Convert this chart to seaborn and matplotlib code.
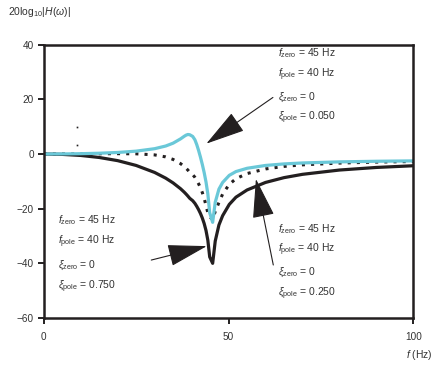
import numpy as np
import pandas as pd
import matplotlib
matplotlib.use("Agg")
import matplotlib.pyplot as plt
import seaborn as sns

# frequency (Hz)
freq = [0, 5, 10, 15, 20, 25, 30, 33, 35, 37, 38, 38.5, 39, 39.5, 40.3, 40.9,
        41.4, 41.9, 42.4, 42.9, 43.4, 43.9, 44.4, 44.9, 45.7, 46.4, 47.4, 48.4,
        50.2, 52, 55, 60, 65, 70, 80, 90, 100]

# gain in dB for xi_pole = 0.050 (cyan), 0.250 (dotted), 0.750 (black)
gain_050 = [0, 0.03, 0.12, 0.29, 0.57, 1.05, 1.95, 2.93, 3.97, 5.53, 6.48, 6.90,
            7.15, 7.06, 6.44, 5.21, 3.44, 1.29, -1.13, -3.79, -6.75, -10.22,
            -14.64, -21.49, -25.0, -17.64, -12.84, -10.40, -7.80, -6.42, -5.22,
            -4.18, -3.62, -3.27, -2.87, -2.65, -2.51]
gain_250 = [0, 0.01, 0.04, 0.09, 0.13, 0.08, -0.32, -1.05, -1.98, -3.50, -4.56,
            -5.18, -5.88, -6.67, -7.54, -8.52, -9.63, -10.90, -12.36, -14.09,
            -16.17, -18.84, -21.5, -23.0, -24.0, -21.0, -17.73, -14.65,
            -11.09, -9.03, -7.15, -5.46, -4.53, -3.96, -3.31, -2.95, -2.74]
gain_750 = [0, -0.13, -0.52, -1.26, -2.42, -4.18, -6.74, -8.83, -10.57, -12.68,
            -13.94, -14.64, -15.39, -16.20, -17.08, -18.06, -19.14, -20.36,
            -21.75, -23.41, -25.41, -27.97, -31.56, -37.65, -40.0, -31.84,
            -25.95, -22.57, -18.43, -15.80, -13.16, -10.40, -8.64, -7.43, -5.86,
            -4.91, -4.29]

# two stray marks near 9 Hz
stray_f = [9, 9]
stray_db = [9.9, 3.3]

labels_050 = [r"$f_{\mathrm{zero}}$ = 45 Hz", r"$f_{\mathrm{pole}}$ = 40 Hz",
              r"$\xi_{\mathrm{zero}}$ = 0", r"$\xi_{\mathrm{pole}}$ = 0.050"]
labels_750 = [r"$f_{\mathrm{zero}}$ = 45 Hz", r"$f_{\mathrm{pole}}$ = 40 Hz",
              r"$\xi_{\mathrm{zero}}$ = 0", r"$\xi_{\mathrm{pole}}$ = 0.750"]
labels_250 = [r"$f_{\mathrm{zero}}$ = 45 Hz", r"$f_{\mathrm{pole}}$ = 40 Hz",
              r"$\xi_{\mathrm{zero}}$ = 0", r"$\xi_{\mathrm{pole}}$ = 0.250"]

df = pd.DataFrame({"f": freq, "g050": gain_050, "g250": gain_250, "g750": gain_750})

sns.set_style("ticks")
plt.rcParams["font.family"] = ["Liberation Sans", "DejaVu Sans"]
plt.rcParams["mathtext.fontset"] = "custom"
plt.rcParams["mathtext.rm"] = "Liberation Sans"
plt.rcParams["mathtext.it"] = "Liberation Sans:italic"

fig = plt.figure(figsize=(4.36, 3.65), dpi=100)
ax = fig.add_axes([0.1002, 0.1288, 0.848, 0.7487])

sns.lineplot(data=df, x="f", y="g750", ax=ax, color="#231f20", lw=2.3)
sns.lineplot(data=df, x="f", y="g250", ax=ax, color="#231f20", lw=2.2,
             linestyle=(0, (1, 2)))
sns.lineplot(data=df, x="f", y="g050", ax=ax, color="#6ac8d8", lw=2.3)
ax.plot(stray_f, stray_db, "s", color="#231f20", ms=1.2, mew=0, lw=0)

ax.set_xlim(0, 100)
ax.set_ylim(-60, 40)
ax.set_xticks([0, 50, 100])
ax.set_yticks([40, 20, 0, -20, -40, -60])
ax.set_xlabel("")
ax.set_ylabel("")
for sp in ax.spines.values():
    sp.set_visible(True)
    sp.set_linewidth(1.8)
    sp.set_color("#231f20")
ax.tick_params(direction="out", length=4, width=1.4, color="#231f20",
               labelsize=7.2, labelcolor="#333333", pad=3)
ax.tick_params(axis="x", pad=6)

fs = 7.5
def block(x, ys, lines):
    for y, t in zip(ys, lines):
        ax.text(x, y, t, fontsize=fs, color="#333333", va="center", ha="left")

block(63.4, [37.0, 28.9, 20.9, 13.2], labels_050)
block(3.9, [-24.1, -32.2, -40.6, -48.7], labels_750)
block(63.4, [-27.4, -35.1, -43.2, -51.2], labels_250)

arrow = dict(arrowstyle="-|>,head_length=1.8,head_width=0.5", color="#231f20",
             lw=0.8, mutation_scale=14, shrinkA=0, shrinkB=0)
ax.annotate("", xy=(44.0, 3.8), xytext=(62.0, 20.7), arrowprops=arrow)
ax.annotate("", xy=(44.1, -33.7), xytext=(29.1, -38.8), arrowprops=arrow)
ax.annotate("", xy=(57.4, -9.1), xytext=(62.1, -40.6), arrowprops=arrow)

fig.text(8 / 436, 1 - 12 / 365, r"20log$_{10}$|$H$($\omega$)|", fontsize=7.5,
         color="#333333", va="center", ha="left")
fig.text(1 - 3 / 436, 1 - 355 / 365, r"$f$ (Hz)", fontsize=7.5,
         color="#333333", va="center", ha="right")

fig.savefig("out.png", dpi=100)
